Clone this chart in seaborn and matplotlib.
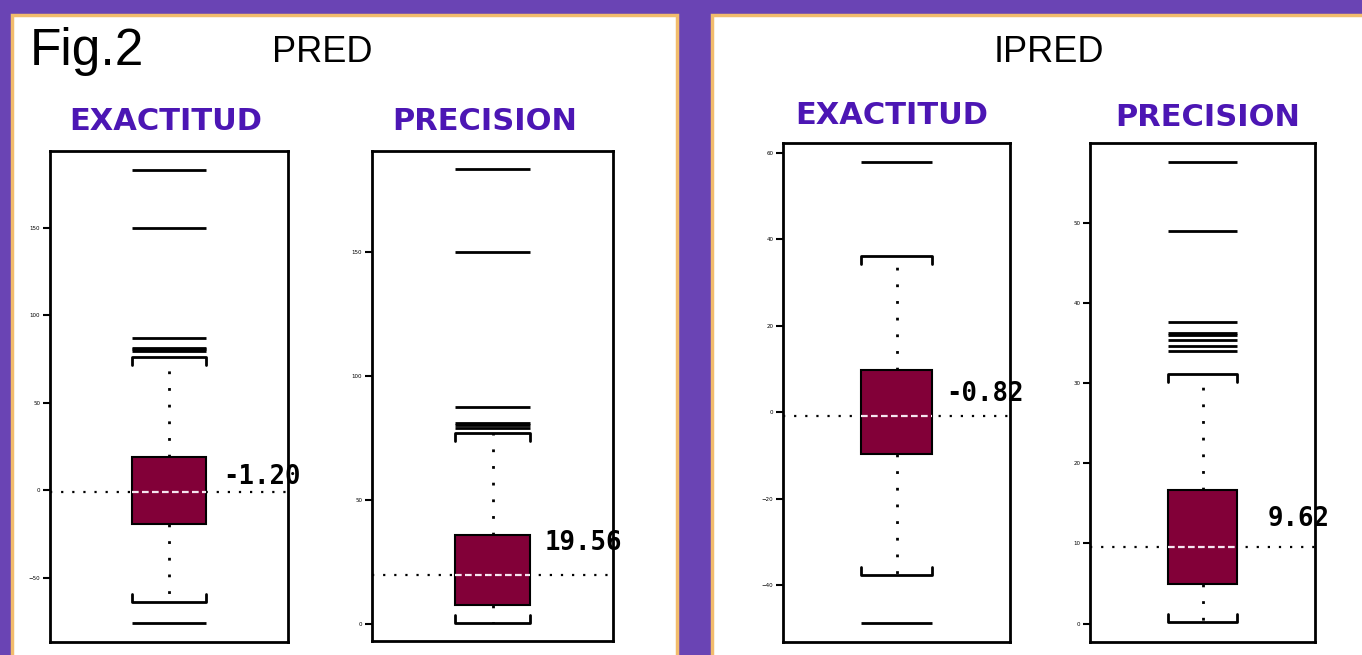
import matplotlib
matplotlib.use("Agg")
import matplotlib.pyplot as plt
from matplotlib.patches import Rectangle
import seaborn as sns
import pandas as pd

sns.set_theme(style="white")
plt.rcParams["font.family"] = ["DejaVu Sans"]
plt.rcParams["text.color"] = "black"

# --- datos ---
grupos = ["PRED", "IPRED"]
paneles = ["EXACTITUD", "PRECISION", "EXACTITUD", "PRECISION"]
medianas = [-1.20, 19.56, -0.82, 9.62]
q1 = [-19.4, 7.4, -9.6, 4.9]
q3 = [18.9, 35.8, 9.9, 16.7]
bigote_inf = [-64.0, 0.4, -37.5, 0.2]
bigote_sup = [76.0, 76.7, 36.1, 31.2]
atipicos = [
    [183.0, 149.7, 87.0, 81.3, 80.4, 79.6, -75.8],
    [183.3, 150.0, 87.4, 81.0, 80.0, 78.9],
    [57.8, -48.7],
    [57.6, 49.0, 37.7, 36.3, 36.0, 35.4, 34.7, 34.0],
]
ylims = [(-86.7, 193.7), (-7.0, 190.6), (-53.1, 62.3), (-2.3, 60.0)]
yticks = [[-50, 0, 50, 100, 150], [0, 50, 100, 150],
          [-40, -20, 0, 20, 40, 60], [0, 10, 20, 30, 40, 50]]

# --- layout (pixeles) ---
W, H = 1362, 655
ejes_px = [(50, 151, 288, 642), (372, 151, 613, 641),
           (783, 143, 1010, 642), (1090, 143, 1315, 642)]
titulo_px = [(166, 121), (485, 121), (892, 115), (1208, 117)]
etiqueta_off = [(17, 15), (15, 32), (15, 22), (30, 28)]

MORADO = "#6a44b4"
NARANJA = "#f2bc6c"
GRANATE = "#820038"
LILA = "#4c16b4"

def rect(x0, y0, x1, y1):
    return [x0 / W, 1 - y1 / H, (x1 - x0) / W, (y1 - y0) / H]

fig = plt.figure(figsize=(W / 100, H / 100), dpi=100, facecolor=MORADO)

# paneles blancos con borde naranja
for x0, x1 in [(12, 677), (712, 1375)]:
    fig.add_artist(Rectangle((x0 / W, -0.05), (x1 - x0) / W, 1.05 - 15 / H,
                             transform=fig.transFigure, facecolor="white",
                             edgecolor=NARANJA, linewidth=2.5, zorder=0))

fig.text(30 / W, 1 - 52 / H, "Fig.2", fontsize=37, va="center", ha="left",
         family="Liberation Sans")
fig.text(322 / W, 1 - 52 / H, grupos[0], fontsize=26, va="center", ha="center",
         family="Liberation Sans")
fig.text(1049 / W, 1 - 52 / H, grupos[1], fontsize=26, va="center", ha="center",
         family="Liberation Sans")

hw = 0.31
for i in range(4):
    ax = fig.add_axes(rect(*ejes_px[i]))
    ax.set_facecolor("white")
    df = pd.DataFrame({"valor": [bigote_inf[i], q1[i], medianas[i], q3[i], bigote_sup[i]]})
    sns.boxplot(y="valor", data=df, ax=ax, whis=(0, 100), width=2 * hw,
                color=GRANATE, linecolor="black", saturation=1, linewidth=1.5,
                showcaps=False,
                boxprops=dict(zorder=3),
                whiskerprops=dict(linestyle=(0, (1, 5)), linewidth=2, color="black"),
                medianprops=dict(color="#f6e6f0", linestyle=(0, (3, 1.5)),
                                 linewidth=1.6, zorder=4))
    ax.axhline(medianas[i], color="black", linestyle=(0, (1, 4)), linewidth=1.6, zorder=1)

    # bigotes con forma de corchete
    d = 0.016 * (ylims[i][1] - ylims[i][0])
    ax.plot([-hw, -hw, hw, hw], [bigote_inf[i] + d, bigote_inf[i], bigote_inf[i], bigote_inf[i] + d],
            color="black", linewidth=2)
    ax.plot([-hw, -hw, hw, hw], [bigote_sup[i] - d, bigote_sup[i], bigote_sup[i], bigote_sup[i] - d],
            color="black", linewidth=2)
    ax.hlines(atipicos[i], -hw, hw, color="black", linewidth=2)

    dx, dy = etiqueta_off[i]
    ax.annotate(f"{medianas[i]:.2f}", xy=(hw, medianas[i]), xytext=(dx, dy),
                textcoords="offset pixels", ha="left", va="center",
                family="DejaVu Sans Mono", fontweight="bold", fontsize=18.5,
                color="black", annotation_clip=False)

    ax.set_xlim(-1, 1)
    ax.set_ylim(*ylims[i])
    ax.set_yticks(yticks[i])
    ax.set_xticks([])
    ax.set_xlabel("")
    ax.set_ylabel("")
    ax.tick_params(axis="y", left=True, length=5, width=1.5, color="black",
                   labelsize=4, labelcolor="black", pad=2)
    for s in ax.spines.values():
        s.set_color("black")
        s.set_linewidth(2)

    tx, ty = titulo_px[i]
    fig.text(tx / W, 1 - ty / H, paneles[i], fontsize=22, fontweight="bold",
             color=LILA, ha="center", va="center")

fig.savefig("out.png", dpi=100, facecolor=MORADO)
